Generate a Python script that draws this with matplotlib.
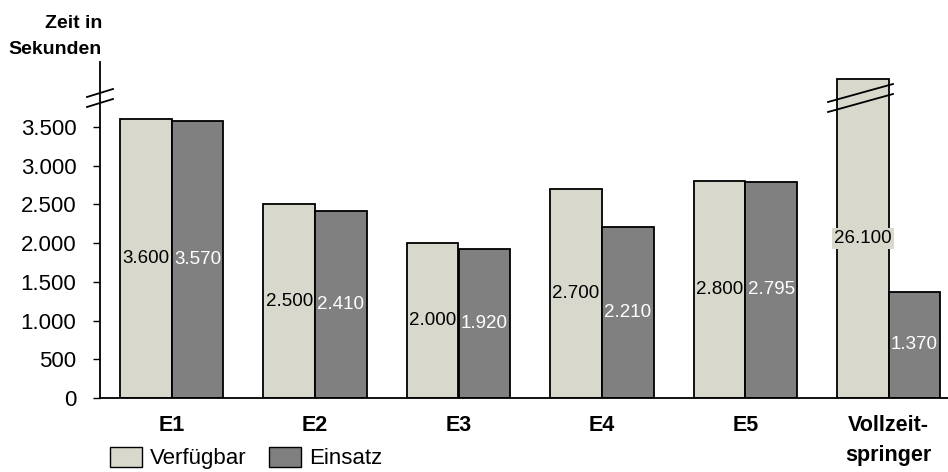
import matplotlib
matplotlib.use("Agg")
import matplotlib.pyplot as plt
import numpy as np
from matplotlib.patches import Patch
from matplotlib.ticker import FuncFormatter

plt.rcParams['font.family'] = ['Liberation Sans', 'DejaVu Sans']

categories = ["E1", "E2", "E3", "E4", "E5", "Vollzeit-\nspringer"]
verfuegbar = [3600, 2500, 2000, 2700, 2800, 26100]
einsatz = [3570, 2410, 1920, 2210, 2795, 1370]
yticks = [0, 500, 1000, 1500, 2000, 2500, 3000, 3500]
series_names = ["Verfügbar", "Einsatz"]

c_v = "#D9D8CC"
c_e = "#808080"
cap = 4115  # display cap for broken bar

fig = plt.figure(figsize=(9.48, 4.72), dpi=100)
ax = fig.add_axes([100/948, 74/472, 848/948, 336/472])

x = np.arange(len(categories))
w = 0.36
v_disp = np.minimum(verfuegbar, cap)
e_disp = np.minimum(einsatz, cap)
ax.bar(x - w/2, v_disp, w, color=c_v, edgecolor="black", linewidth=1.3, zorder=2)
ax.bar(x + w/2, e_disp, w, color=c_e, edgecolor="black", linewidth=1.3, zorder=2)

fmt = lambda v: f"{v:,.0f}".replace(",", ".")
for i in range(len(categories)):
    if verfuegbar[i] > cap:
        ax.text(x[i] - w/2, v_disp[i]/2, fmt(verfuegbar[i]), ha="center", va="center",
                fontsize=13.5, color="black", zorder=4,
                bbox=dict(facecolor=c_v, edgecolor="none", pad=1.5))
    else:
        ax.text(x[i] - w/2, v_disp[i]/2, fmt(verfuegbar[i]), ha="center", va="center",
                fontsize=13.5, color="black", zorder=4)
    ax.text(x[i] + w/2, e_disp[i]/2, fmt(einsatz[i]), ha="center", va="center",
            fontsize=13.5, color="white", zorder=4)

ax.set_xlim(-0.5, -0.5 + 848/143.4)
ax.set_ylim(0, 4338)
ax.set_yticks(yticks)
ax.yaxis.set_major_formatter(FuncFormatter(lambda v, p: fmt(v)))
ax.tick_params(axis="y", length=5, width=1, pad=12, labelsize=16, direction="out")
ax.set_xticks(x)
ax.set_xticklabels(categories, fontsize=15.5, fontweight="bold", linespacing=1.6)
ax.tick_params(axis="x", length=0, pad=12)
for lab in ax.get_xticklabels():
    lab.set_verticalalignment("top")

for s in ["top", "right"]:
    ax.spines[s].set_visible(False)
ax.spines["left"].set_linewidth(1.3)
ax.spines["bottom"].set_linewidth(1.3)

# axis break marks
def px2x(px):
    return -0.5 + (px - 100) / 143.4
def py2y(py):
    return (398 - py) * 4338 / 336
for dy in (0, 10):
    ax.plot([px2x(87), px2x(113)], [py2y(97 + dy), py2y(89 + dy)], color="black",
            lw=1.3, clip_on=False, zorder=5)
# bar break marks
for dy in (0, 10):
    ax.plot([px2x(828), px2x(893)], [py2y(102 + dy), py2y(84 + dy)], color="black",
            lw=1.3, clip_on=False, zorder=5)

fig.text(102/948, 1 - 24/472, "Zeit in", ha="right", va="center", fontsize=14, fontweight="bold")
fig.text(102/948, 1 - 50/472, "Sekunden", ha="right", va="center", fontsize=14, fontweight="bold")

handles = [Patch(facecolor=c_v, edgecolor="black", linewidth=1),
           Patch(facecolor=c_e, edgecolor="black", linewidth=1)]
fig.legend(handles, series_names, loc="center left", bbox_to_anchor=(110/948, 1 - 458/472),
           ncol=2, frameon=False, fontsize=16, handlelength=1.45, handleheight=1.05,
           handletextpad=0.36, columnspacing=1.0, borderpad=0, borderaxespad=0)

fig.savefig("out.png", dpi=100)
